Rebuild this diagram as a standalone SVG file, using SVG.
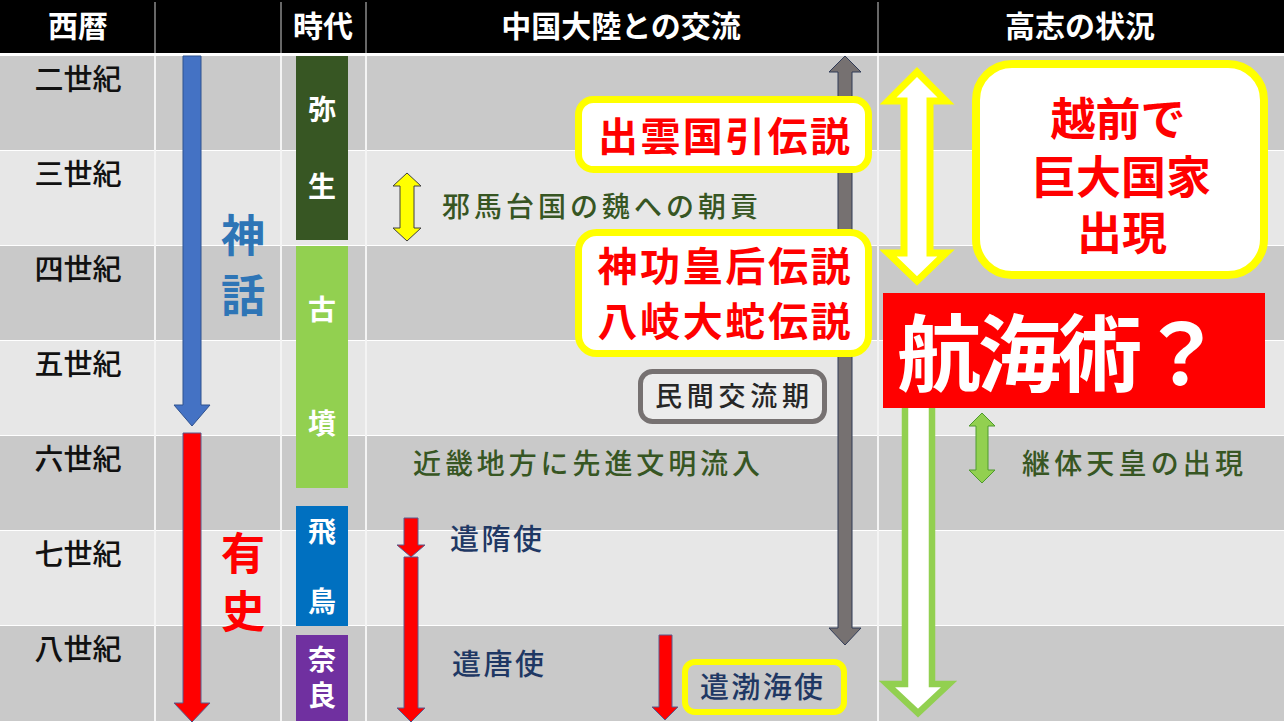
<svg xmlns="http://www.w3.org/2000/svg" width="1284" height="726" viewBox="0 0 1284 726">
<style>
text{font-family:"Noto Sans CJK JP","Noto Sans",sans-serif}
.hd{fill:#fff;font-size:30px;font-weight:700;text-anchor:middle}
.cen{fill:#111;font-size:29px;font-weight:500;text-anchor:middle}
.era{fill:#fff;font-size:28px;font-weight:700;text-anchor:middle}
.dk{fill:#375623;font-size:28px;font-weight:500}
.nv{fill:#1f3864;font-size:29px;font-weight:500}
.rd{fill:#ff0000;font-weight:700;text-anchor:middle}
.rowd{fill:#c9c9c9}
.rowl{fill:#e7e7e7}
.vsep{stroke:#f4f4f4;stroke-width:2}
.hsep{stroke:#8a8a8a;stroke-width:1.5}
</style>
<rect x="0" y="0" width="1284" height="726" fill="#ffffff"/>
<g id="table">
<rect x="0" y="0" width="1284" height="53" fill="#000"/>
<rect class="rowd" x="0" y="56" width="1284" height="94"/>
<rect class="rowl" x="0" y="151" width="1284" height="94"/>
<rect class="rowd" x="0" y="246" width="1284" height="94"/>
<rect class="rowl" x="0" y="341" width="1284" height="94"/>
<rect class="rowd" x="0" y="436" width="1284" height="94"/>
<rect class="rowl" x="0" y="531" width="1284" height="94"/>
<rect class="rowd" x="0" y="626" width="1284" height="95"/>
<line class="vsep" x1="155" y1="56" x2="155" y2="721"/>
<line class="vsep" x1="281" y1="56" x2="281" y2="721"/>
<line class="vsep" x1="366" y1="56" x2="366" y2="721"/>
<line class="vsep" x1="878" y1="56" x2="878" y2="721"/>
<line class="hsep" x1="155" y1="2" x2="155" y2="53"/>
<line class="hsep" x1="281" y1="2" x2="281" y2="53"/>
<line class="hsep" x1="366" y1="2" x2="366" y2="53"/>
<line class="hsep" x1="878" y1="2" x2="878" y2="53"/>
<text class="hd" x="78" y="37">西暦</text>
<text class="hd" x="323" y="37">時代</text>
<text class="hd" x="621" y="37">中国大陸との交流</text>
<text class="hd" x="1080" y="37">高志の状況</text>
<text class="cen" x="78" y="90">二世紀</text>
<text class="cen" x="78" y="185">三世紀</text>
<text class="cen" x="78" y="280">四世紀</text>
<text class="cen" x="78" y="375">五世紀</text>
<text class="cen" x="78" y="470">六世紀</text>
<text class="cen" x="78" y="565">七世紀</text>
<text class="cen" x="78" y="660">八世紀</text>
</g>
<g id="eras">
<g id="yayoi"><rect x="296" y="56" width="52" height="184" fill="#375623"/><text class="era" x="322" y="120">弥<tspan x="322" y="197">生</tspan></text></g>
<g id="kofun"><rect x="296" y="246" width="52" height="242" fill="#92d050"/><text class="era" x="322" y="320">古<tspan x="322" y="434">墳</tspan></text></g>
<g id="asuka"><rect x="296" y="506" width="52" height="120" fill="#0070c0"/><text class="era" x="322" y="542">飛<tspan x="322" y="612">鳥</tspan></text></g>
<g id="nara"><rect x="296" y="635" width="52" height="86" fill="#7030a0"/><text class="era" x="322" y="670">奈<tspan x="322" y="706">良</tspan></text></g>
</g>
<g id="connectors">
<polygon id="arrow-shinwa" points="183,56 201,56 201,405 210,405 192,426 174,405 183,405" fill="#4472c4" stroke="#2f528f" stroke-width="1"/>
<polygon id="arrow-yushi" points="183,433 201,433 201,703 210,703 192,722 174,703 183,703" fill="#ff0000" stroke="#5a5a8c" stroke-width="1"/>
<polygon id="arrow-yamatai" points="407,173 421,186 414,186 414,228 421,228 407,241 393,228 400,228 400,186 393,186" fill="#ffff00" stroke="#404040" stroke-width="1"/>
<polygon id="arrow-minkan" points="845,56 861,72 852,72 852,628 861,628 845,645 829,628 838,628 838,72 829,72" fill="#767171" stroke="#2f3a56" stroke-width="1"/>
<polygon id="arrow-zuishi" points="404,518 418,518 418,545 425,545 411,557 397,545 404,545" fill="#ff0000" stroke="#5a5a8c" stroke-width="1"/>
<polygon id="arrow-toshi" points="404,557 418,557 418,708 425,708 411,722 397,708 404,708" fill="#ff0000" stroke="#5a5a8c" stroke-width="1"/>
<polygon id="arrow-bokkai" points="659,635 672,635 672,707 678,707 665,720 652,707 659,707" fill="#ff0000" stroke="#5a5a8c" stroke-width="1"/>
<polygon id="arrow-koshi" points="917,72 946,101 930,101 930,253 946,253 917,281 888,253 904,253 904,101 888,101" fill="#ffffff" stroke="#ffff00" stroke-width="7" stroke-linejoin="miter"/>
<polygon id="arrow-kokai" points="905,400 932,400 932,684 949,684 918,713 887,684 905,684" fill="#ffffff" stroke="#92d050" stroke-width="6.5"/>
<polygon id="arrow-keitai" points="982,413 995,426 988,426 988,470 995,470 982,483 969,470 976,470 976,426 969,426" fill="#92d050" stroke="#4e9a2e" stroke-width="1"/>
</g>
<g id="izumo">
<rect x="578.5" y="99.5" width="290" height="70" rx="15" fill="#fff" stroke="#ffff00" stroke-width="7"/>
<text class="rd" x="724" y="151" font-size="40" textLength="252" lengthAdjust="spacing">出雲国引伝説</text>
</g>
<g id="jingu">
<rect x="578.5" y="232.5" width="290" height="121" rx="18" fill="#fff" stroke="#ffff00" stroke-width="7"/>
<text class="rd" x="724" y="281" font-size="40" textLength="253" lengthAdjust="spacing">神功皇后伝説</text>
<text class="rd" x="724" y="336" font-size="40" textLength="253" lengthAdjust="spacing">八岐大蛇伝説</text>
</g>
<g id="yamatai">
<text class="dk" x="442" y="217" textLength="316" lengthAdjust="spacing">邪馬台国の魏への朝貢</text>
</g>
<g id="minkan">
<rect x="640.5" y="371.5" width="184" height="50" rx="12" fill="#ececec" stroke="#767171" stroke-width="5"/>
<text x="732" y="406" font-size="27" font-weight="500" fill="#262626" text-anchor="middle" textLength="154" lengthAdjust="spacing">民間交流期</text>
</g>
<g id="kinki">
<text class="dk" x="413" y="474" textLength="347" lengthAdjust="spacing">近畿地方に先進文明流入</text>
</g>
<g id="zuishi"><text class="nv" x="450" y="550" textLength="92" lengthAdjust="spacing">遣隋使</text></g>
<g id="toshi"><text class="nv" x="452" y="675" textLength="92" lengthAdjust="spacing">遣唐使</text></g>
<g id="bokkai">
<rect x="685" y="662" width="159" height="50" rx="10" fill="#c9c9c9" stroke="#ffff00" stroke-width="6"/>
<text class="nv" x="700" y="698" textLength="123" lengthAdjust="spacing">遣渤海使</text>
</g>
<g id="shinwa">
<text x="243" y="252" font-size="44" font-weight="700" fill="#2e75b6" text-anchor="middle">神<tspan x="243" y="312">話</tspan></text>
</g>
<g id="yushi">
<text x="243" y="570" font-size="44" font-weight="700" fill="#ff0000" text-anchor="middle">有<tspan x="243" y="628">史</tspan></text>
</g>
<g id="echizen">
<rect x="976" y="64" width="288" height="211" rx="36" fill="#fff" stroke="#ffff00" stroke-width="8"/>
<text class="rd" font-size="45"><tspan x="1118" y="136">越前で</tspan><tspan x="1121" y="194">巨大国家</tspan><tspan x="1122" y="250">出現</tspan></text>
</g>
<g id="kokai">
<rect x="883" y="293" width="382" height="115" fill="#ff0000"/>
<text x="897" y="385" font-size="84" font-weight="700" fill="#ffffff" textLength="326" lengthAdjust="spacing">航海術？</text>
</g>
<g id="keitai">
<text class="dk" x="1022" y="474" textLength="221" lengthAdjust="spacing">継体天皇の出現</text>
</g>
</svg>
